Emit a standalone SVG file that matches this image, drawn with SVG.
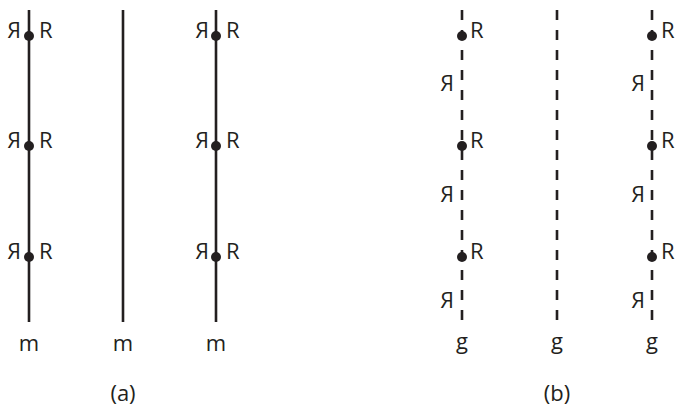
<svg xmlns="http://www.w3.org/2000/svg" width="693" height="411" viewBox="0 0 693 411">
<style>
.ln{stroke:#231f20;stroke-width:2.6;fill:none}
.ds{stroke-dasharray:10 10}
.dot{fill:#231f20}
text{font-family:"Open Sans","Noto Sans","Liberation Sans",sans-serif;font-size:22px;fill:#231f20}
.c{text-anchor:middle}
</style>
<rect width="693" height="411" fill="#fff"/>
<g id="connectors">
<line class="ln" x1="29" y1="10" x2="29" y2="322"/>
<line class="ln" x1="123" y1="10" x2="123" y2="322"/>
<line class="ln" x1="216" y1="10" x2="216" y2="322"/>
<line class="ln ds" x1="462" y1="10" x2="462" y2="322"/>
<line class="ln ds" x1="557" y1="10" x2="557" y2="322"/>
<line class="ln ds" x1="652" y1="10" x2="652" y2="322"/>
</g>
<g id="panel-a">
<g id="a1">
<circle class="dot" cx="29" cy="36" r="5"/><circle class="dot" cx="29" cy="146" r="5"/><circle class="dot" cx="29" cy="257" r="5"/>
<text x="39" y="38">R</text><text x="39" y="148">R</text><text x="39" y="259">R</text>
<text transform="translate(21,0) scale(-1,1)" x="0" y="38">R</text>
<text transform="translate(21,0) scale(-1,1)" x="0" y="148">R</text>
<text transform="translate(21,0) scale(-1,1)" x="0" y="259">R</text>
<text class="c" x="29" y="351">m</text>
</g>
<g id="a2"><text class="c" x="123" y="351">m</text></g>
<g id="a3">
<circle class="dot" cx="216" cy="36" r="5"/><circle class="dot" cx="216" cy="146" r="5"/><circle class="dot" cx="216" cy="257" r="5"/>
<text x="226" y="38">R</text><text x="226" y="148">R</text><text x="226" y="259">R</text>
<text transform="translate(209,0) scale(-1,1)" x="0" y="38">R</text>
<text transform="translate(209,0) scale(-1,1)" x="0" y="148">R</text>
<text transform="translate(209,0) scale(-1,1)" x="0" y="259">R</text>
<text class="c" x="216" y="351">m</text>
</g>
<text class="c" x="123" y="401">(a)</text>
</g>
<g id="panel-b">
<g id="b1">
<circle class="dot" cx="462" cy="36" r="5"/><circle class="dot" cx="462" cy="146" r="5"/><circle class="dot" cx="462" cy="257" r="5"/>
<text x="470" y="38">R</text><text x="470" y="148">R</text><text x="470" y="259">R</text>
<text transform="translate(454,0) scale(-1,1)" x="0" y="91">R</text>
<text transform="translate(454,0) scale(-1,1)" x="0" y="202">R</text>
<text transform="translate(454,0) scale(-1,1)" x="0" y="308">R</text>
<text class="c" x="462" y="349">g</text>
</g>
<g id="b2"><text class="c" x="557" y="349">g</text></g>
<g id="b3">
<circle class="dot" cx="652" cy="36" r="5"/><circle class="dot" cx="652" cy="146" r="5"/><circle class="dot" cx="652" cy="257" r="5"/>
<text x="661" y="38">R</text><text x="661" y="148">R</text><text x="661" y="259">R</text>
<text transform="translate(645,0) scale(-1,1)" x="0" y="91">R</text>
<text transform="translate(645,0) scale(-1,1)" x="0" y="202">R</text>
<text transform="translate(645,0) scale(-1,1)" x="0" y="308">R</text>
<text class="c" x="652" y="349">g</text>
</g>
<text class="c" x="557" y="401">(b)</text>
</g>
</svg>
